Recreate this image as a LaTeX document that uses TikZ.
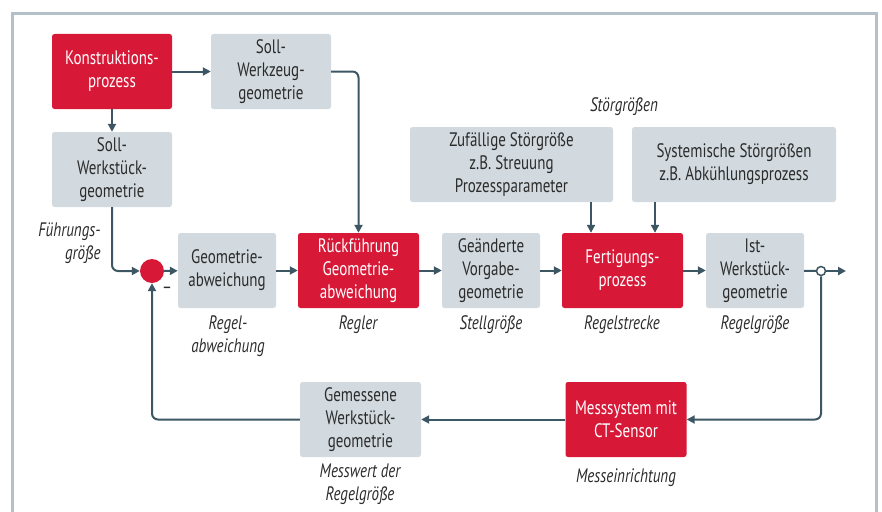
\documentclass[tikz,border=0pt]{standalone}
\usepackage{fontspec}
\setmainfont{PT Sans}[FakeStretch=0.77]
\usetikzlibrary{arrows.meta}
\definecolor{rotton}{RGB}{215,25,55}
\definecolor{boxgrau}{RGB}{210,218,223}
\definecolor{textgrau}{RGB}{43,43,43}
\definecolor{strich}{RGB}{61,86,100}
\definecolor{rahmen}{RGB}{180,192,200}

\begin{document}
\begin{tikzpicture}[x=1pt,y=-1pt,
	box/.style={rounded corners=2.5pt, inner sep=0pt, minimum height=75pt, align=center, font=\fontsize{19.5}{23}\selectfont},
	grau/.style={box, fill=boxgrau, text=textgrau},
	rot/.style={box, fill=rotton, text=white},
	pfeil/.style={draw=strich, line width=2pt, -{Triangle[length=8pt,width=8pt]}},
	lbl/.style={text=textgrau, align=center, font=\fontsize{19.5}{23}\selectfont\itshape}]
	\clip (0,0) rectangle (882,511);
	\draw[rahmen, line width=3pt] (12.5,530) -- (12.5,13.5) -- (876.5,13.5) -- (876.5,530);

	% obere Reihe
	\node[rot, minimum width=120pt] (konst) at (112,71.5) {Konstruktions-\\prozess};
	\node[grau, minimum width=120pt] (sollwz) at (271,71.5) {Soll-\\Werkzeug-\\geometrie};
	\node[grau, minimum width=120pt] (sollws) at (112,169.5) {Soll-\\Werkstück-\\geometrie};
	\node[grau, minimum width=203pt] (zufall) at (511.5,164.5) {Zufällige Störgröße\\z.B. Streuung\\Prozessparameter};
	\node[grau, minimum width=204pt] (system) at (734,164.5) {Systemische Störgrößen\\z.B. Abkühlungsprozess};

	% Regelkreis
	\node[circle, fill=rotton, minimum size=24pt, inner sep=0pt] (summe) at (152,271) {};
	\node[grau, minimum width=98pt] (abw) at (227,270.5) {Geometrie-\\abweichung};
	\node[rot, minimum width=121pt] (rueck) at (358.5,270.5) {Rückführung\\Geometrie-\\abweichung};
	\node[grau, minimum width=98pt] (vorgabe) at (491,270.5) {Geänderte\\Vorgabe-\\geometrie};
	\node[rot, minimum width=121pt] (fert) at (622.5,270.5) {Fertigungs-\\prozess};
	\node[grau, minimum width=98pt] (ist) at (755,270.5) {Ist-\\Werkstück-\\geometrie};
	\node[circle, draw=strich, fill=white, line width=1.5pt, minimum size=9pt, inner sep=0pt] (abzweig) at (821,271) {};
	\coordinate (ausgang) at (846,271);
	\node[rot, minimum width=121pt] (mess) at (626,419.5) {Messsystem mit\\CT-Sensor};
	\node[grau, minimum width=121pt] (gemessen) at (360.5,419.5) {Gemessene\\Werkstück-\\geometrie};

	% Beschriftungen
	\node[lbl] (lstoer) at (624,107) {Störgrößen};
	\node[lbl, anchor=east, align=right] (lfuehr) at (104,243) {Führungs-\\größe};
	\node[lbl] (labw) at (228,336) {Regel-\\abweichung};
	\node[lbl] (lregler) at (358,325) {Regler};
	\node[lbl] (lstell) at (491,325) {Stellgröße};
	\node[lbl] (lstrecke) at (622,325) {Regelstrecke};
	\node[lbl] (lgroesse) at (755,325) {Regelgröße};
	\node[lbl] (lmess) at (626,478) {Messeinrichtung};
	\node[lbl] (lwert) at (360,484) {Messwert der\\Regelgröße};
	\node[text=textgrau, font=\fontsize{19.5}{23}\selectfont] (minus) at (167,290) {–};

	% Verbindungen
	\draw[pfeil] (konst) -- (sollwz);
	\draw[pfeil] (konst) -- (sollws);
	\draw[pfeil, rounded corners=6pt] (sollwz.east) -| (rueck.north);
	\draw[pfeil, rounded corners=6pt] (sollws.south) |- (summe.west);
	\draw[pfeil] (summe) -- (abw);
	\draw[pfeil] (abw) -- (rueck);
	\draw[pfeil] (rueck) -- (vorgabe);
	\draw[pfeil] (vorgabe) -- (fert);
	\draw[pfeil] (fert) -- (ist);
	\draw[strich, line width=2pt] (ist) -- (abzweig);
	\draw[pfeil] (abzweig) -- (ausgang);
	\draw[pfeil, rounded corners=6pt] (abzweig.south) |- (mess.east);
	\draw[pfeil] (mess) -- (gemessen);
	\draw[pfeil, rounded corners=6pt] (gemessen.west) -| (summe.south);
	\coordinate (s1) at (591,0);
	\coordinate (s2) at (655,0);
	\draw[pfeil] (s1 |- zufall.south) -- (s1 |- fert.north);
	\draw[pfeil] (s2 |- system.south) -- (s2 |- fert.north);
\end{tikzpicture}
\end{document}
